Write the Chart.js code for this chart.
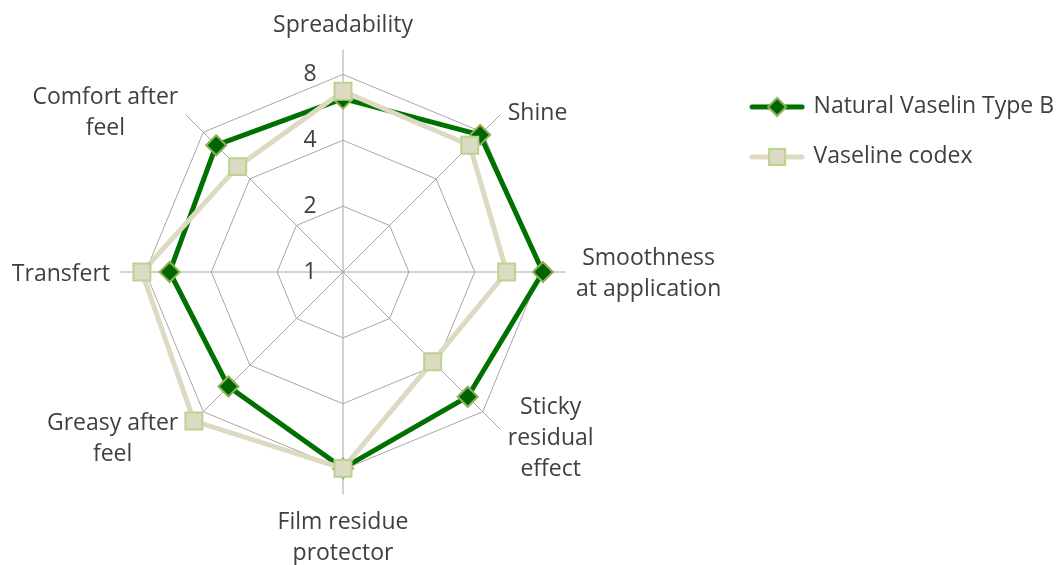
<!DOCTYPE html>
<html>
<head>
<meta charset="utf-8">
<script src="https://cdn.jsdelivr.net/npm/chart.js@4.4.1/dist/chart.umd.min.js"></script>
<style>
  html, body { margin: 0; padding: 0; background: #ffffff; }
  #wrap { width: 1064px; height: 565px; position: relative; }
</style>
</head>
<body>
<div id="wrap"><canvas id="c"></canvas></div>
<script>
const categories = [
  "Spreadability",
  "Shine",
  ["Smoothness", "at application"],
  ["Sticky", "residual", "effect"],
  ["Film residue", "protector"],
  ["Greasy after", "feel"],
  "Transfert",
  ["Comfort after", "feel"]
];
const seriesNames = ["Natural Vaselin Type B", "Vaseline codex"];
const naturalVaselin = [6.2, 7.7, 8.2, 6.4, 7.9, 5.5, 6.2, 6.6];
const vaselineCodex  = [6.7, 6.6, 5.6, 3.8, 7.9, 9.2, 8.3, 4.8];
const tickValues = [1, 2, 4, 8];
const axisMax = 10.4;

const FONT = "Open Sans";
const FSIZE = 23;
const LINE_H = 1.35;
const TEXT = "#404040";
const CENTER_X = 343, CENTER_Y = 272, RADIUS = 222.5, LABEL_PAD = 10.5;

function toLog(arr) { return arr.map(v => Math.log2(v)); }

function legendImage(color, lineW, style, fill, border, r) {
  const cv = document.createElement('canvas');
  cv.width = 56; cv.height = 26;
  const g = cv.getContext('2d');
  g.strokeStyle = color; g.lineWidth = lineW; g.lineCap = 'round';
  g.beginPath(); g.moveTo(3, 13); g.lineTo(53, 13); g.stroke();
  g.fillStyle = fill; g.strokeStyle = border; g.lineWidth = 2;
  g.beginPath();
  if (style === 'diamond') {
    g.moveTo(28, 13 - r); g.lineTo(28 + r, 13); g.lineTo(28, 13 + r); g.lineTo(28 - r, 13); g.closePath();
  } else {
    g.rect(28 - r, 13 - r, 2 * r, 2 * r);
  }
  g.fill(); g.stroke();
  return cv;
}

const styles = [
  { line: '#007000', width: 5, pstyle: 'rectRot', pr: 10, pfill: '#006400', pborder: '#8DB255', lg: ['diamond', 9] },
  { line: '#DDD9C3', width: 5, pstyle: 'rect', pr: 12, pfill: '#DDD9C3', pborder: '#B9D48F', lg: ['square', 8] }
];

const datasets = [naturalVaselin, vaselineCodex].map((vals, i) => ({
  label: seriesNames[i],
  data: toLog(vals),
  borderColor: styles[i].line,
  borderWidth: styles[i].width,
  backgroundColor: 'transparent',
  fill: false,
  pointStyle: styles[i].pstyle,
  pointRadius: styles[i].pr,
  pointHoverRadius: styles[i].pr,
  pointBackgroundColor: styles[i].pfill,
  pointBorderColor: styles[i].pborder,
  pointBorderWidth: 2,
  tension: 0,
  order: i === 0 ? 1 : 0
}));

function placeRadar(scale) {
  scale.xCenter = CENTER_X;
  scale.yCenter = CENTER_Y;
  scale.drawingArea = RADIUS;
  const ctx = scale.ctx;
  ctx.save();
  ctx.font = FSIZE + 'px "' + FONT + '"';
  const lh = FSIZE * LINE_H;
  scale._pointLabelItems = scale._pointLabels.map((label, i) => {
    const lines = Array.isArray(label) ? label : [label];
    const w = Math.max(...lines.map(t => ctx.measureText(t).width));
    const h = lines.length * lh;
    const pos = scale.getPointPosition(i, scale.drawingArea + LABEL_PAD);
    const deg = Math.round(scale.getIndexAngle(i) * 180 / Math.PI) % 360;
    let x = pos.x, y;
    if (deg === 0) { y = pos.y - h + 2; }
    else if (deg === 180) { y = pos.y + 2; }
    else {
      y = pos.y - h / 2 + 2 + ((deg < 90 || deg > 270) ? 4 : 0);
      x = deg < 180 ? pos.x + w / 2 : pos.x - w / 2;
    }
    return { visible: true, x, y, textAlign: 'center', left: x - w / 2, right: x + w / 2, top: y, bottom: y + h };
  });
  ctx.restore();
}

new Chart(document.getElementById('c'), {
  type: 'radar',
  data: { labels: categories, datasets },
  options: {
    responsive: true,
    maintainAspectRatio: false,
    animation: false,
    layout: { padding: { left: 0, right: 0, top: 0, bottom: 0 } },
    plugins: {
      tooltip: { enabled: false },
      legend: {
        position: 'right',
        align: 'start',
        title: { display: true, text: ' ', padding: { top: 54, bottom: 0 } },
        labels: {
          usePointStyle: true,
          pointStyleWidth: 50,
          padding: 27,
          color: TEXT,
          font: { family: FONT, size: FSIZE },
          generateLabels: (chart) => chart.data.datasets.map((ds, i) => ({
            text: ds.label,
            fillStyle: ds.borderColor,
            strokeStyle: ds.borderColor,
            lineWidth: 0,
            fontColor: TEXT,
            pointStyle: legendImage(styles[i].line, styles[i].width, styles[i].lg[0], styles[i].pfill, styles[i].pborder, styles[i].lg[1]),
            datasetIndex: i,
            hidden: false
          }))
        }
      }
    },
    scales: {
      r: {
        min: -0.000001,
        max: Math.log2(axisMax),
        afterBuildTicks: (scale) => { scale.ticks = tickValues.map(v => ({ value: Math.log2(v) })); },
        afterFit: placeRadar,
        ticks: {
          display: true,
          showLabelBackdrop: false,
          color: TEXT,
          font: { family: FONT, size: FSIZE },
          callback: (value) => String(Math.round(Math.pow(2, value))) + '           '
        },
        grid: { color: '#A6A6A6', lineWidth: 1 },
        angleLines: { color: '#A6A6A6', lineWidth: 1 },
        pointLabels: {
          color: TEXT,
          padding: LABEL_PAD,
          font: { family: FONT, size: FSIZE, lineHeight: LINE_H }
        }
      }
    }
  }
});
</script>
</body>
</html>
